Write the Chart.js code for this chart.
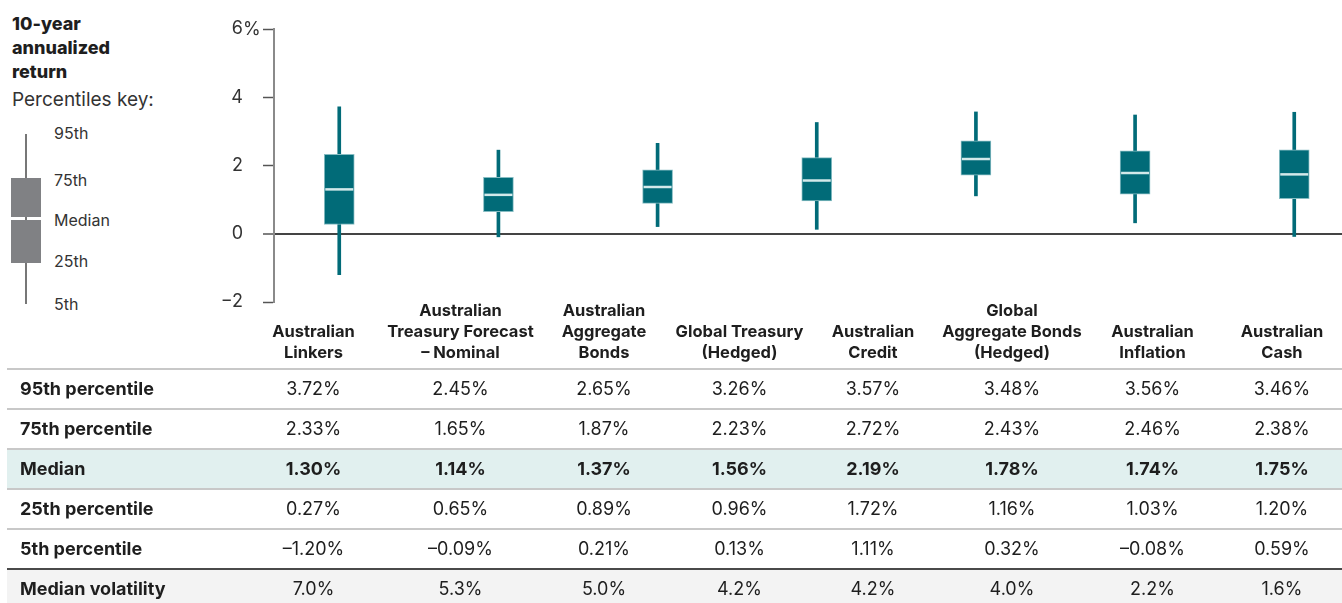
<!DOCTYPE html>
<html>
<head>
<meta charset="utf-8">
<script src="https://cdn.jsdelivr.net/npm/chart.js@4"></script>
<style>
  body { margin: 0; background: #fff; font-family: Inter, Lato, sans-serif; color: #1e1e1e; }
  #page { position: relative; width: 1342px; height: 603px; overflow: hidden; }
  #box-chart { position: absolute; left: 0; top: 0; }
  .title { position: absolute; left: 12px; top: 12px; font-weight: 800; font-size: 18px; line-height: 24px; }
  .keyhead { position: absolute; left: 12px; top: 88px; font-size: 19px; line-height: 24px; color: #333; }
  .key-whisker { position: absolute; left: 25px; top: 134px; width: 1.5px; height: 170px; background: #777; }
  .key-box { position: absolute; left: 11px; width: 30px; background: #808184; }
  .key-lab { position: absolute; left: 54px; font-size: 16px; line-height: 18px; color: #333; }
  .pct { position: absolute; left: 243px; top: 19px; font-size: 18px; line-height: 20px; color: #333; }
  #table { position: absolute; left: 7px; top: 300px; width: 1335px; }
  .row { display: flex; height: 40px; box-sizing: border-box; border-top: 2px solid #c8c8c8; }
  .row > div { text-align: center; font-size: 18px; line-height: 38px; }
  .row > div:first-child { text-align: left; padding-left: 13px; box-sizing: border-box; font-weight: 700; }
  .head { display: flex; height: 68px; align-items: flex-end; }
  .head > div { text-align: center; font-weight: 700; font-size: 16.5px; line-height: 21px; padding-bottom: 5px; white-space: nowrap; }
  .median { background: #e1f0ef; }
  .median > div { font-weight: 700; }
  .vol { background: #f3f3f3; border-top-color: #4a4a4a; }
</style>
</head>
<body>
<div id="page">
  <div class="title">10-year<br>annualized<br>return</div>
  <div class="keyhead">Percentiles key:</div>
  <div class="key-whisker"></div>
  <div class="key-box" style="top:178px;height:39px"></div>
  <div class="key-box" style="top:220px;height:43px"></div>
  <div class="key-lab" style="top:124px">95th</div>
  <div class="key-lab" style="top:171px">75th</div>
  <div class="key-lab" style="top:211px">Median</div>
  <div class="key-lab" style="top:252px">25th</div>
  <div class="key-lab" style="top:295px">5th</div>

  <canvas id="box-chart" width="1342" height="312"></canvas>
  <div class="pct">%</div>
  <div id="table"></div>
</div>

<script>
const categories = [
  ['Australian', 'Linkers'],
  ['Australian', 'Treasury Forecast', '– Nominal'],
  ['Australian', 'Aggregate', 'Bonds'],
  ['Global Treasury', '(Hedged)'],
  ['Australian', 'Credit'],
  ['Global', 'Aggregate Bonds', '(Hedged)'],
  ['Australian', 'Inflation'],
  ['Australian', 'Cash']
]
const p95 = [3.72, 2.45, 2.65, 3.26, 3.57, 3.48, 3.56, 3.46]
const p75 = [2.33, 1.65, 1.87, 2.23, 2.72, 2.43, 2.46, 2.38]
const median = [1.30, 1.14, 1.37, 1.56, 2.19, 1.78, 1.74, 1.75]
const p25 = [0.27, 0.65, 0.89, 0.96, 1.72, 1.16, 1.03, 1.20]
const p5 = [-1.20, -0.09, 0.21, 0.13, 1.11, 0.32, -0.08, 0.59]
const volatility = [7.0, 5.3, 5.0, 4.2, 4.2, 4.0, 2.2, 1.6]
const yTicks = [-2, 0, 2, 4, 6]

// the plot shows the first seven series only
const plotted = 7

const teal = '#016b78'
const idx = [...Array(plotted).keys()]

// ---- table under the plot ----
const colWidths = [233, 147, 147, 140, 131, 136, 142, 139, 120]
const fmt = (v, d) => (v < 0 ? '–' : '') + Math.abs(v).toFixed(d) + '%'

function rowHtml(cls, label, cells){
  let html = '<div class="' + cls + '">'
  html += '<div style="width:' + colWidths[0] + 'px">' + label + '</div>'
  cells.forEach((c, i) => { html += '<div style="width:' + colWidths[i + 1] + 'px">' + c + '</div>' })
  return html + '</div>'
}

let tableHtml = rowHtml('head', '', categories.map(lines => lines.join('<br>')))
tableHtml += rowHtml('row', '95th percentile', p95.map(v => fmt(v, 2)))
tableHtml += rowHtml('row', '75th percentile', p75.map(v => fmt(v, 2)))
tableHtml += rowHtml('row median', 'Median', median.map(v => fmt(v, 2)))
tableHtml += rowHtml('row', '25th percentile', p25.map(v => fmt(v, 2)))
tableHtml += rowHtml('row', '5th percentile', p5.map(v => fmt(v, 2)))
tableHtml += rowHtml('row vol', 'Median volatility', volatility.map(v => fmt(v, 1)))
document.getElementById('table').innerHTML = tableHtml

// ---- box plot ----
new Chart(document.getElementById('box-chart'), {
  type: 'bar',
  data: {
    datasets: [
      {
        type: 'line',
        order: 0,
        data: idx.map(i => ({x: i, y: median[i]})),
        showLine: false,
        pointStyle: 'line',
        pointRadius: 14,
        pointBorderWidth: 2.5,
        pointBorderColor: '#d3e9ea'
      },
      {
        order: 1,
        data: idx.map(i => ({x: i, y: [p25[i], p75[i]]})),
        backgroundColor: teal,
        borderColor: '#86bcc2',
        borderWidth: 1,
        borderSkipped: false,
        barThickness: 30,
        grouped: false
      },
      {
        order: 2,
        data: idx.map(i => ({x: i, y: [p5[i], p95[i]]})),
        backgroundColor: teal,
        barThickness: 3,
        grouped: false
      }
    ]
  },
  options: {
    responsive: false,
    animation: false,
    layout: { autoPadding: false, padding: { top: 29, bottom: 10, left: 0, right: 0 } },
    plugins: { legend: { display: false }, tooltip: { enabled: false } },
    scales: {
      x: { type: 'linear', display: false, offset: false, min: -0.41, max: 6.3 },
      y: {
        min: -2,
        max: 6,
        afterFit: scale => {
          scale.width = 274
          // label padding would otherwise shrink the plot vertically
          scale.paddingTop = 0
          scale.paddingBottom = 0
        },
        afterBuildTicks: scale => { scale.ticks = yTicks.map(v => ({value: v})) },
        border: { display: true, color: '#8a8a8a', width: 2 },
        grid: {
          color: ctx => ctx.tick && ctx.tick.value === 0 ? '#444' : 'rgba(0,0,0,0)',
          lineWidth: ctx => ctx.tick && ctx.tick.value === 0 ? 2 : 1,
          tickColor: '#555',
          tickWidth: 1.5,
          tickLength: 11
        },
        ticks: {
          padding: 20,
          color: '#333',
          font: { family: 'Inter', size: 18 },
          callback: v => v < 0 ? '−' + Math.abs(v) : String(v)
        }
      }
    }
  }
})
</script>
</body>
</html>
